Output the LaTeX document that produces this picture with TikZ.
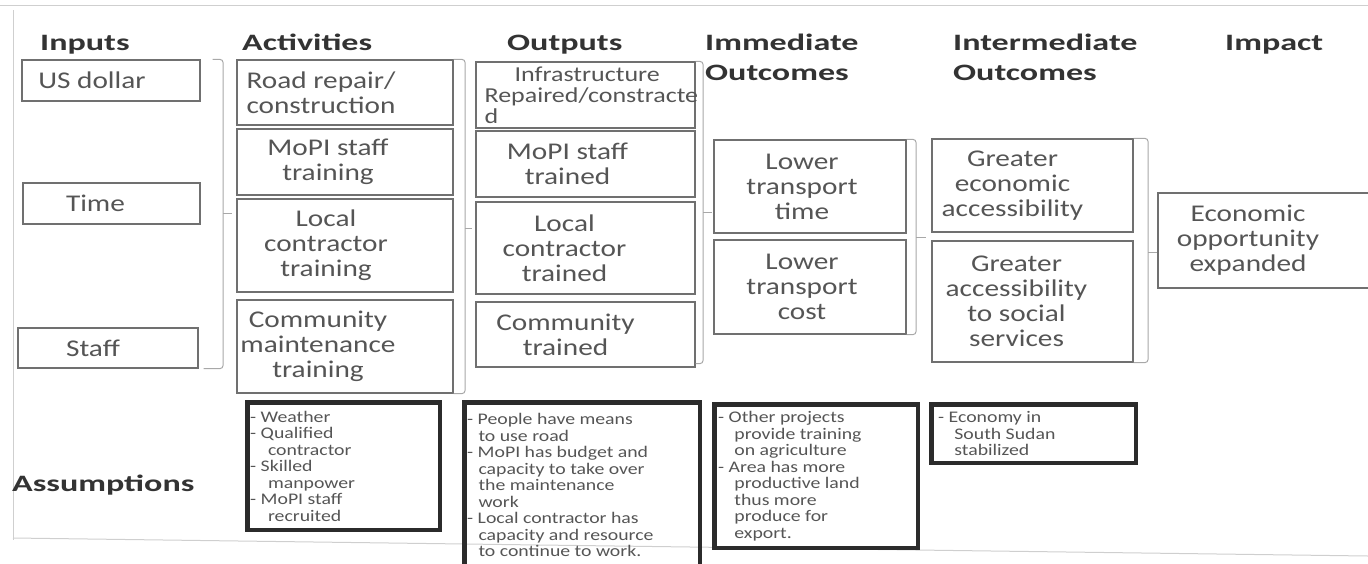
\documentclass[tikz,border=0pt]{standalone}
\usepackage{fontspec}
\setmainfont{Carlito}[FakeStretch=1.22]
\newfontfamily\headfont{Carlito}[FakeStretch=1.45]

\definecolor{framegray}{HTML}{707070}
\definecolor{txtgray}{HTML}{555555}
\definecolor{headgray}{HTML}{333333}
\definecolor{notegray}{HTML}{2B2B2B}
\definecolor{bracegray}{HTML}{A8A8A8}
\definecolor{scangray}{HTML}{CFCFCF}

\begin{document}
\begin{tikzpicture}[x=1pt, y=-1pt,
    box/.style = {draw=framegray, line width=1.2pt, inner sep=0pt},
    txt/.style = {text=txtgray, align=center, inner sep=0pt,
      font=\fontsize{24}{25}\selectfont},
    head/.style = {text=headgray, anchor=base west, align=left, inner sep=0pt,
      font=\headfont\bfseries\fontsize{23.5}{30}\selectfont},
    note/.style = {draw=notegray, line width=4.5pt, inner sep=0pt},
    notetxt/.style = {text=txtgray, anchor=west, align=left, inner sep=0pt,
      font=\fontsize{16.2}{16.5}\selectfont},
    brace/.style = {draw=bracegray, line width=1pt, rounded corners=3pt}]
  \useasboundingbox (0,0) rectangle (1368,563);
  \clip (0,0) rectangle (1368,563);

  % page edge
  \draw[scangray, line width=1pt] (0,5) -- (1368,5);
  \draw[scangray, line width=1pt] (13,10) -- (13,540);
  \draw[scangray, line width=1pt] (13,538) -- (1368,556);

  % column heads (two-line heads sit on their last line)
  \node[head] (h-in) at (40,50) {Inputs};
  \node[head] (h-act) at (242,50) {Activities};
  \node[head] (h-out) at (507,50) {Outputs};
  \node[head] (h-imm) at (705,80) {Immediate\\Outcomes};
  \node[head] (h-int) at (953,80) {Intermediate\\Outcomes};
  \node[head] (h-imp) at (1225,50) {Impact};
  \node[head] (h-ass) at (12,491) {Assumptions};

  % inputs
  \node[box, minimum width=178, minimum height=41] (usd) at (111,80.5) {};
  \node[box, minimum width=177, minimum height=41] (time) at (111.5,203.5) {};
  \node[box, minimum width=180, minimum height=40] (staff) at (108,348) {};
  \node[txt] (usd-t) at ([xshift=-19pt]usd.center) {US dollar};
  \node[txt] (time-t) at ([xshift=-16pt]time.center) {Time};
  \node[txt] (staff-t) at ([xshift=-15pt]staff.center) {Staff};

  % activities
  \node[box, minimum width=216, minimum height=65] (act1) at (345,92.5) {};
  \node[box, minimum width=216, minimum height=66] (act2) at (345,162) {};
  \node[box, minimum width=216, minimum height=93] (act3) at (345,245.5) {};
  \node[box, minimum width=216, minimum height=93] (act4) at (345,346.5) {};
  \node[txt] (act1-t) at ([xshift=-24pt]act1.center) {Road repair/\\construction};
  \node[txt] (act2-t) at ([xshift=-17pt]act2.center) {MoPI staff\\training};
  \node[txt] (act3-t) at ([xshift=-19pt]act3.center) {Local\\contractor\\training};
  \node[txt] (act4-t) at ([xshift=-27pt]act4.center) {Community\\maintenance\\training};

  % outputs
  \node[box, minimum width=219, minimum height=66] (out1) at (585.5,95) {};
  \node[box, minimum width=219, minimum height=66] (out2) at (585.5,164) {};
  \node[box, minimum width=219, minimum height=92] (out3) at (585.5,248) {};
  \node[box, minimum width=219, minimum height=65] (out4) at (585.5,334.5) {};
  \node[txt, anchor=west, align=left, font=\fontsize{21.3}{21}\selectfont] (out1-t)
    at ([xshift=9pt]out1.west) {\hspace*{30pt}Infrastructure\\Repaired/constracte\\d};
  \node[txt] (out2-t) at ([xshift=-18pt]out2.center) {MoPI staff\\trained};
  \node[txt] (out3-t) at ([xshift=-21pt]out3.center) {Local\\contractor\\trained};
  \node[txt] (out4-t) at ([xshift=-20pt]out4.center) {Community\\trained};

  % immediate outcomes
  \node[box, minimum width=192, minimum height=93] (imm1) at (810,186.5) {};
  \node[box, minimum width=192, minimum height=94] (imm2) at (810,287) {};
  \node[txt] (imm1-t) at ([xshift=-8pt]imm1.center) {Lower\\transport\\time};
  \node[txt] (imm2-t) at ([xshift=-8pt]imm2.center) {Lower\\transport\\cost};

  % intermediate outcomes
  \node[box, minimum width=201, minimum height=93] (int1) at (1032.5,185.5) {};
  \node[box, minimum width=201, minimum height=121] (int2) at (1032.5,301.5) {};
  \node[txt] (int1-t) at ([xshift=-20pt]int1.center) {Greater\\economic\\accessibility};
  \node[txt] (int2-t) at ([xshift=-16pt]int2.center) {Greater\\accessibility\\to social\\services};

  % impact
  \node[box, minimum width=222, minimum height=95] (imp) at (1269,240.5) {};
  \node[txt] (imp-t) at ([xshift=-21pt]imp.center) {Economic\\opportunity\\expanded};

  % brackets between the columns
  \coordinate (inb) at (223,213);
  \draw[brace] ([xshift=12pt]usd.north east) -| (inb) |- ([xshift=5pt]staff.south east);
  \draw[brace] (inb) -- ++(9,0);
  \coordinate (actb) at (465,228);
  \draw[brace] (act1.north east) -| (actb) |- (act4.south east);
  \draw[brace] (actb) -- ++(7,0);
  \coordinate (outb) at (703,212);
  \draw[brace] (out1.north east) -| (outb) |- ([yshift=4pt]out4.south east);
  \draw[brace] (outb) -- ++(9,0);
  \coordinate (immb) at (916,237);
  \draw[brace] (imm1.north east) -| (immb) |- (imm2.south east);
  \draw[brace] (immb) -- ++(10,0);
  \coordinate (intb) at (1148,252);
  \draw[brace] (int1.north east) -| (intb) |- (int2.south east);
  \draw[brace] (intb) -- (intb -| imp.west);

  % assumptions
  \node[note, minimum width=192.5, minimum height=127.5] (a1) at (343.5,466) {};
  \node[note, minimum width=235.5, minimum height=165.5] (a2) at (582,485) {};
  \node[note, minimum width=203.5, minimum height=143.5] (a3) at (816,476) {};
  \node[note, minimum width=204.5, minimum height=58.5] (a4) at (1033.5,433.5) {};
  \node[notetxt] (a1-t) at ([xshift=5pt]a1.west)
    {- Weather\\- Qualified\\\hspace*{1.1em}contractor\\- Skilled\\\hspace*{1.1em}manpower\\- MoPI staff\\\hspace*{1.1em}recruited};
  \node[notetxt] (a2-t) at ([xshift=5pt]a2.west)
    {- People have means\\\hspace*{0.7em}to use road\\- MoPI has budget and\\\hspace*{0.7em}capacity to take over\\\hspace*{0.7em}the maintenance\\\hspace*{0.7em}work\\- Local contractor has\\\hspace*{0.7em}capacity and resource\\\hspace*{0.7em}to continue to work.};
  \node[notetxt] (a3-t) at ([xshift=6pt]a3.west)
    {- Other projects\\\hspace*{1em}provide training\\\hspace*{1em}on agriculture\\- Area has more\\\hspace*{1em}productive land\\\hspace*{1em}thus more\\\hspace*{1em}produce for\\\hspace*{1em}export.};
  \node[notetxt] (a4-t) at ([xshift=9pt]a4.west)
    {- Economy in\\\hspace*{1em}South Sudan\\\hspace*{1em}stabilized};
\end{tikzpicture}
\end{document}
